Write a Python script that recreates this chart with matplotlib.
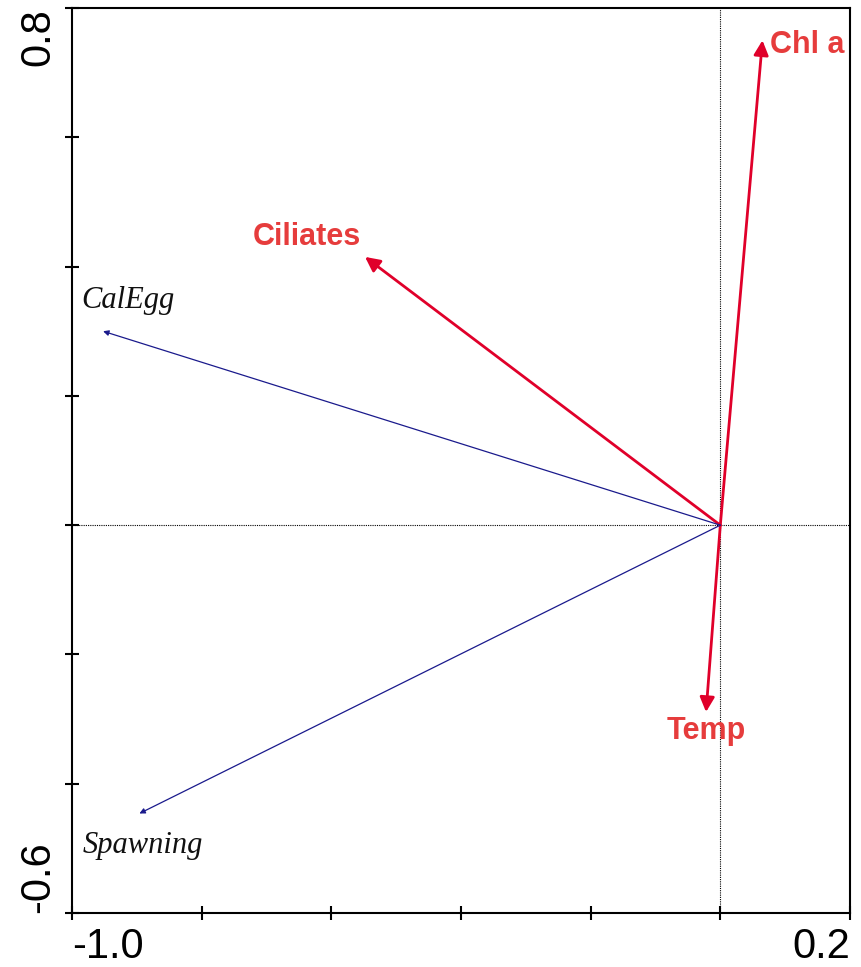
import matplotlib
matplotlib.use('Agg')
import matplotlib.pyplot as plt

# environmental variables (red, bold) and species (blue, italic)
env_names = ['Chl a', 'Ciliates', 'Temp']
env_x = [0.065, -0.548, -0.022]
env_y = [0.750, 0.415, -0.289]

sp_names = ['CalEgg', 'Spawning']
sp_x = [-0.952, -0.896]
sp_y = [0.300, -0.446]

x_ticks = [-1.0, -0.8, -0.6, -0.4, -0.2, 0.0, 0.2]
y_ticks = [-0.6, -0.4, -0.2, 0.0, 0.2, 0.4, 0.6, 0.8]

fig = plt.figure(figsize=(8.61, 9.67), dpi=100)
ax = fig.add_axes([0.0836, 0.0558, 0.9036, 0.9359])
ax.set_xlim(-1.0, 0.2)
ax.set_ylim(-0.6, 0.8)

ax.axhline(0, color='black', lw=0.8, ls=(0, (1, 1)), zorder=1)
ax.axvline(0, color='black', lw=0.8, ls=(0, (1, 1)), zorder=1)

red = '#e0002a'
navy = '#1a1a8c'

for x, y in zip(env_x, env_y):
    ax.annotate('', xy=(x, y), xytext=(0, 0),
                arrowprops=dict(arrowstyle='-|>', color=red, lw=2.0,
                                mutation_scale=22, shrinkA=0, shrinkB=0))
for x, y in zip(sp_x, sp_y):
    ax.annotate('', xy=(x, y), xytext=(0, 0),
                arrowprops=dict(arrowstyle='-|>', color=navy, lw=0.9,
                                mutation_scale=8, shrinkA=0, shrinkB=0))

# label offsets (data units) relative to arrow tips
env_off = [(0.012, -0.007), (-0.089, 0.031), (0.0, -0.030)]
env_ha = ['left', 'center', 'center']
for n, x, y, (dx, dy), ha in zip(env_names, env_x, env_y, env_off, env_ha):
    ax.text(x + dx, y + dy, n, color='#e63c3c', fontsize=22, fontweight='bold',
            family='Liberation Sans', ha=ha, va='center')

sp_off = [(0.039, 0.047), (0.006, -0.049)]
for n, x, y, (dx, dy) in zip(sp_names, sp_x, sp_y, sp_off):
    ax.text(x + dx, y + dy, n, color='#111111', fontsize=22, style='italic',
            family='Liberation Serif', ha='center', va='center')

ax.set_xticks(x_ticks)
ax.set_yticks(y_ticks)
ax.set_xticklabels(['-1.0', '', '', '', '', '', '0.2'])
ax.set_yticklabels(['-0.6', '', '', '', '', '', '', '0.8'], rotation=90)
ax.tick_params(direction='inout', length=10, width=1.5, labelsize=30, pad=5)

xl = ax.get_xticklabels()
xl[0].set_ha('left')
xl[-1].set_ha('right')
yl = ax.get_yticklabels()
yl[0].set_va('bottom')
yl[-1].set_va('top')
for lab in xl + yl:
    lab.set_family('Liberation Sans')

for s in ax.spines.values():
    s.set_linewidth(1.5)

fig.savefig('out.png', dpi=100)
